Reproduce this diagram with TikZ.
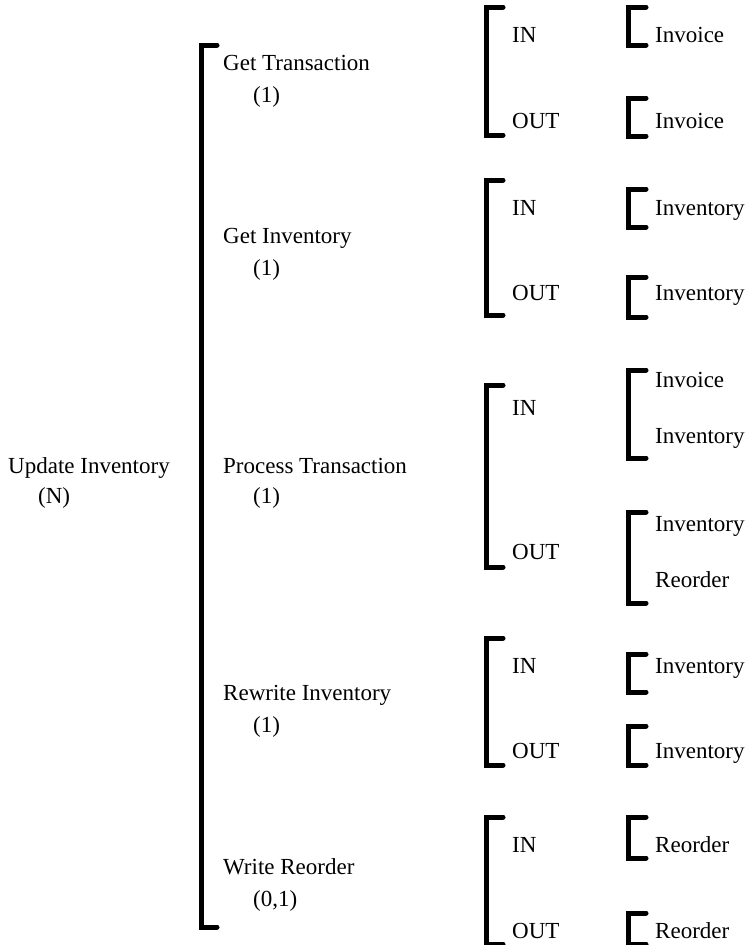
\documentclass[tikz,border=0pt]{standalone}
\usepackage{fontspec}
\setmainfont{Liberation Serif}
\newcommand{\sqbrk}[4]{\draw[brk] (#1+#4,#2) -- (#1,#2) -- (#1,#3) -- (#1+#4,#3);}

\begin{document}
\begin{tikzpicture}[x=1pt, y=-1pt, font=\fontsize{23}{27}\selectfont,
  lbl/.style={anchor=base west, inner sep=0pt},
  brk/.style={line width=5pt, line cap=round, line join=miter}]
  \useasboundingbox (0,0) rectangle (749,945);
  % top level
  \node[lbl] (upd) at (8,473) {Update Inventory};
  \node[lbl] (updn) at (38,503) {(N)};
  \sqbrk{201}{45}{927}{16}
  % second level
  \node[lbl] (gtr) at (223,70) {Get Transaction};
  \node[lbl] (gtrn) at (253,102) {(1)};
  \node[lbl] (ginv) at (223,243) {Get Inventory};
  \node[lbl] (ginvn) at (253,275) {(1)};
  \node[lbl] (ptr) at (223,473) {Process Transaction};
  \node[lbl] (ptrn) at (253,503) {(1)};
  \node[lbl] (rinv) at (223,700) {Rewrite Inventory};
  \node[lbl] (rinvn) at (253,732) {(1)};
  \node[lbl] (wro) at (223,874) {Write Reorder};
  \node[lbl] (wron) at (253,906) {(0,1)};
  % IN / OUT
  \sqbrk{486}{7}{135}{17}
  \node[lbl] (gtrin) at (512,42) {IN};
  \node[lbl] (gtrout) at (512,128) {OUT};
  \sqbrk{486}{180}{315}{17}
  \node[lbl] (ginvin) at (512,215) {IN};
  \node[lbl] (ginvout) at (512,300) {OUT};
  \sqbrk{486}{385}{567}{17}
  \node[lbl] (ptrin) at (512,415) {IN};
  \node[lbl] (ptrout) at (512,559) {OUT};
  \sqbrk{486}{638}{765}{17}
  \node[lbl] (rinvin) at (512,673) {IN};
  \node[lbl] (rinvout) at (512,758) {OUT};
  \sqbrk{486}{817}{944}{17}
  \node[lbl] (wroin) at (512,852) {IN};
  \node[lbl] (wroout) at (512,938) {OUT};
  % data
  \sqbrk{628}{7}{45}{18}
  \node[lbl] (d1) at (655,42) {Invoice};
  \sqbrk{628}{98}{136}{18}
  \node[lbl] (d2) at (655,128) {Invoice};
  \sqbrk{628}{189}{227}{18}
  \node[lbl] (d3) at (655,215) {Inventory};
  \sqbrk{628}{277}{317}{18}
  \node[lbl] (d4) at (655,300) {Inventory};
  \sqbrk{628}{370}{458}{18}
  \node[lbl] (d5) at (655,387) {Invoice};
  \node[lbl] (d6) at (655,443) {Inventory};
  \sqbrk{628}{512}{603}{18}
  \node[lbl] (d7) at (655,531) {Inventory};
  \node[lbl] (d8) at (655,587) {Reorder};
  \sqbrk{628}{654}{692}{18}
  \node[lbl] (d9) at (655,673) {Inventory};
  \sqbrk{628}{726}{765}{18}
  \node[lbl] (d10) at (655,758) {Inventory};
  \sqbrk{628}{817}{858}{18}
  \node[lbl] (d11) at (655,852) {Reorder};
  \sqbrk{628}{913}{944}{18}
  \node[lbl] (d12) at (655,938) {Reorder};
\end{tikzpicture}
\end{document}
